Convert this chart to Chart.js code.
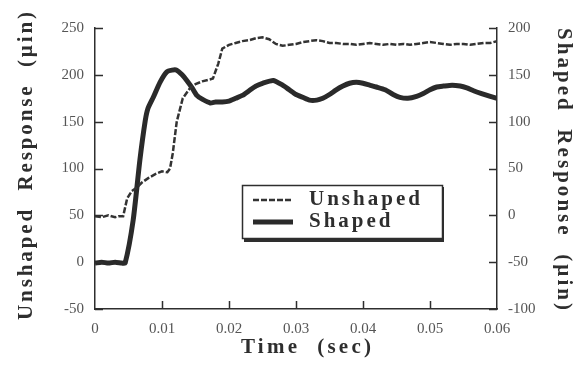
<!DOCTYPE html>
<html>
<head>
<meta charset="utf-8">
<script src="https://cdn.jsdelivr.net/npm/chart.js@4.4.1/dist/chart.umd.min.js"></script>
<style>
  html, body { margin: 0; padding: 0; background: #fff; }
  canvas { display: block; }
</style>
</head>
<body>
<canvas id="responseChart" width="576" height="366"></canvas>
<script>
// time axis tick labels (sec)
const xTickLabels = ['0', '0.01', '0.02', '0.03', '0.04', '0.05', '0.06'];

// unshaped response, left axis (µin)
const unshapedTime = [
    0, 0.001, 0.002, 0.003, 0.0035, 0.0042, 0.0048, 0.0055, 0.0063, 0.007,
    0.008, 0.009, 0.010, 0.0108, 0.0112, 0.0116, 0.0122, 0.0131, 0.0142, 0.015,
    0.016, 0.0176, 0.0184, 0.019, 0.020, 0.021, 0.022, 0.023, 0.024, 0.025,
    0.026, 0.027, 0.028, 0.029, 0.030, 0.031, 0.032, 0.033, 0.034, 0.035,
    0.036, 0.037, 0.038, 0.039, 0.040, 0.041, 0.042, 0.043, 0.044, 0.045,
    0.046, 0.047, 0.048, 0.049, 0.050, 0.051, 0.052, 0.053, 0.054, 0.055,
    0.056, 0.057, 0.058, 0.059, 0.060
];
const unshapedValues = [
    49, 48, 50, 48, 49, 49, 68, 76, 80, 85,
    90, 94, 97, 96, 100, 116, 150, 175, 186, 190,
    193, 196, 212, 228, 232, 234, 236, 237, 239, 240,
    238, 233, 231, 232, 233, 235, 236, 237, 236, 234,
    234, 233, 233, 232, 233, 234, 233, 232, 233, 232,
    233, 232, 233, 234, 235, 234, 233, 232, 233, 233,
    232, 233, 234, 234, 236
];

// shaped response, right axis (µin)
const shapedTime = [
    0, 0.001, 0.002, 0.003, 0.004, 0.0045, 0.0057, 0.0067, 0.0075, 0.0079,
    0.0087, 0.0097, 0.0107, 0.0115, 0.0122, 0.013, 0.0137, 0.0145, 0.0152, 0.016,
    0.0172, 0.018, 0.019, 0.020, 0.021, 0.022, 0.023, 0.024, 0.025, 0.0266,
    0.028, 0.029, 0.030, 0.031, 0.032, 0.0331, 0.034, 0.035, 0.036, 0.037,
    0.038, 0.039, 0.040, 0.041, 0.042, 0.0433, 0.0445, 0.0455, 0.0467, 0.048,
    0.049, 0.050, 0.051, 0.052, 0.0533, 0.0545, 0.0555, 0.0565, 0.0577, 0.059,
    0.060
];
const shapedValues = [
    -51, -50, -51, -50, -51, -51, -5, 59, 101, 114,
    126, 142, 153, 155, 155, 150, 144, 136, 128, 124,
    120, 121, 121, 122, 125, 128, 133, 138, 141, 144,
    139, 134, 129, 126, 123, 123, 125, 129, 134, 138,
    141, 142, 141, 139, 137, 134, 129, 126, 125, 127,
    130, 134, 137, 138, 139, 138, 136, 133, 130, 127,
    125
];

const SERIF = '"Liberation Serif", "DejaVu Serif", serif';
const INK = '#2e2e2e';

function toPoints(xs, ys) {
    return xs.map((x, i) => ({ x: x, y: ys[i] }));
}

// draw text stretched to a given span (the original uses wide letter spacing)
function spacedText(ctx, text, cx, cy, angle, span) {
    ctx.save();
    ctx.translate(cx, cy);
    ctx.rotate(angle);
    ctx.letterSpacing = '0px';
    const natural = ctx.measureText(text).width;
    const gap = Math.max(0, (span - natural) / (text.length - 1));
    ctx.letterSpacing = gap.toFixed(2) + 'px';
    ctx.textAlign = 'left';
    ctx.textBaseline = 'middle';
    ctx.fillText(text, -span / 2, 0);
    ctx.restore();
}

const decorPlugin = {
    id: 'decor',
    afterDraw(chart) {
        const ctx = chart.ctx;
        const area = chart.chartArea;
        const xs = chart.scales.x, yl = chart.scales.y, yr = chart.scales.y2;

        // inward tick marks
        ctx.save();
        ctx.strokeStyle = INK;
        ctx.lineWidth = 1.5;
        ctx.beginPath();
        yl.ticks.forEach(t => {
            const py = Math.round(yl.getPixelForValue(t.value)) + 0.5;
            ctx.moveTo(area.left, py); ctx.lineTo(area.left + 8, py);
        });
        yr.ticks.forEach(t => {
            const py = Math.round(yr.getPixelForValue(t.value)) + 0.5;
            ctx.moveTo(area.right, py); ctx.lineTo(area.right - 8, py);
        });
        xs.ticks.forEach((t, i) => {
            if (i === 0 || i === xs.ticks.length - 1) return;
            const px = Math.round(xs.getPixelForValue(t.value)) + 0.5;
            ctx.moveTo(px, area.bottom); ctx.lineTo(px, area.bottom - 8);
        });
        ctx.stroke();
        ctx.restore();

        // axis titles
        ctx.save();
        ctx.fillStyle = INK;
        ctx.font = 'bold 21px ' + SERIF;
        spacedText(ctx, 'Unshaped  Response  (µin)', 27, 166, -Math.PI / 2, 308);
        spacedText(ctx, 'Shaped  Response  (µin)', 563, 169, Math.PI / 2, 282);
        spacedText(ctx, 'Time  (sec)', 306, 348, 0, 130);
        ctx.restore();

        // legend box
        const bx = 242, by = 185, bw = 200, bh = 53;
        ctx.save();
        ctx.fillStyle = '#fff';
        ctx.fillRect(bx, by, bw, bh);
        ctx.fillStyle = INK;
        ctx.fillRect(bx + 2, by + bh, bw, 4);
        ctx.fillRect(bx + bw, by + 2, 2, bh + 2);
        ctx.strokeStyle = INK;
        ctx.lineWidth = 1.5;
        ctx.strokeRect(bx + 0.5, by + 0.5, bw, bh);

        const rows = [200, 222];
        chart.data.datasets.forEach((ds, i) => {
            const y = rows[i];
            ctx.strokeStyle = ds.borderColor;
            ctx.lineWidth = ds.borderWidth;
            ctx.setLineDash(ds.borderDash || []);
            ctx.beginPath();
            ctx.moveTo(253, y); ctx.lineTo(293, y);
            ctx.stroke();
            ctx.setLineDash([]);
            ctx.fillStyle = INK;
            ctx.font = 'bold 21px ' + SERIF;
            ctx.letterSpacing = '3px';
            ctx.textBaseline = 'middle';
            ctx.textAlign = 'left';
            ctx.fillText(ds.label, 309, y);
        });
        ctx.restore();
    }
};

const tickFont = { family: SERIF, size: 15 };

new Chart(document.getElementById('responseChart').getContext('2d'), {
    type: 'line',
    data: {
        datasets: [{
            label: 'Unshaped',
            data: toPoints(unshapedTime, unshapedValues),
            yAxisID: 'y',
            borderColor: '#333',
            borderWidth: 2.5,
            borderDash: [6, 2],
            pointRadius: 0,
            tension: 0
        }, {
            label: 'Shaped',
            data: toPoints(shapedTime, shapedValues),
            yAxisID: 'y2',
            borderColor: '#2a2a2a',
            borderWidth: 5,
            pointRadius: 0,
            tension: 0.2
        }]
    },
    options: {
        responsive: false,
        animation: false,
        layout: { padding: { top: 28, left: 0, right: 0, bottom: 0 } },
        plugins: {
            legend: { display: false },
            tooltip: { enabled: false }
        },
        scales: {
            x: {
                type: 'linear',
                position: 'bottom',
                min: 0,
                max: 0.06,
                afterFit: s => { s.height = 57; },
                grid: { display: false, drawTicks: false },
                border: { display: true, color: INK, width: 1.5 },
                ticks: {
                    stepSize: 0.01,
                    padding: 11,
                    color: '#555',
                    font: tickFont,
                    maxRotation: 0,
                    callback: (val, i) => xTickLabels[i]
                }
            },
            y: {
                position: 'left',
                min: -50,
                max: 250,
                afterFit: s => { s.width = 95; },
                grid: { display: false, drawTicks: false },
                border: { display: true, color: INK, width: 1.5 },
                ticks: { stepSize: 50, padding: 11, color: '#555', font: tickFont }
            },
            y2: {
                position: 'right',
                min: -100,
                max: 200,
                afterFit: s => { s.width = 79; },
                grid: { display: false, drawTicks: false },
                border: { display: true, color: INK, width: 1.5 },
                ticks: { stepSize: 50, padding: 11, color: '#555', font: tickFont }
            }
        }
    },
    plugins: [decorPlugin]
});
</script>
</body>
</html>
